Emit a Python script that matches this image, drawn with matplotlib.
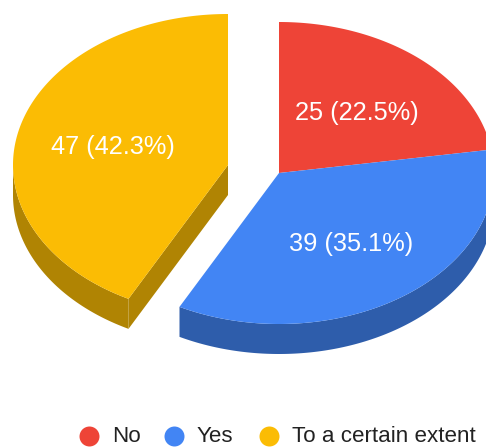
import matplotlib
matplotlib.use("Agg")
import matplotlib.pyplot as plt
import numpy as np

categories = ["No", "Yes", "To a certain extent"]
counts = [25, 39, 47]
percents = ["22.5%", "35.1%", "42.3%"]
colors = ["#EE4437", "#4285F4", "#FBBC04"]
side_colors = ["#A62F26", "#2E5DAB", "#B08403"]

# wedge apex in pixel coordinates
centers = [(279, 173), (279, 173), (228, 165)]
label_pos = [(357, 113), (351, 244), (112.5, 147)]
legend_dots = [89, 173.5, 269]
rx, ry, depth = 215, 151, 30

plt.rcParams["font.family"] = ["Liberation Sans", "DejaVu Sans"]


def rim(cx, cy, a0, a1, dy=0):
    # points on the ellipse, angles clockwise from 12 o'clock
    a = np.radians(np.linspace(a0, a1, 200))
    return cx + rx * np.sin(a), cy - ry * np.cos(a) + dy


fig = plt.figure(figsize=(4.86, 4.47), dpi=100)
ax = fig.add_axes([0, 0, 1, 1])
ax.set_xlim(0, 486)
ax.set_ylim(447, 0)
ax.axis("off")

total = sum(counts)
edges = np.cumsum([0] + counts) / total * 360

for i in range(len(counts)):
    cx, cy = centers[i]
    a0, a1 = edges[i], edges[i + 1]

    # outer side wall, only the front half of the ellipse shows
    s0, s1 = max(a0, 90), min(a1, 270)
    if s0 < s1:
        x, y = rim(cx, cy, s0, s1)
        ax.fill(np.r_[x, x[::-1]], np.r_[y, y[::-1] + depth], color=side_colors[i], lw=0)

    # cut face looking towards the viewer
    if a0 > 180:
        ex, ey = rim(cx, cy, a0, a0)
        ax.fill([cx, ex[0], ex[0], cx], [cy, ey[0], ey[0] + depth, cy + depth],
                color=side_colors[i], lw=0)

    x, y = rim(cx, cy, a0, a1)
    ax.fill(np.r_[cx, x], np.r_[cy, y], color=colors[i], lw=0)

    ax.text(label_pos[i][0], label_pos[i][1], f"{counts[i]} ({percents[i]})",
            color="white", fontsize=18.3, ha="center", va="center")

    # legend
    ax.scatter(legend_dots[i], 436, s=207, color=colors[i], lw=0, clip_on=False)
    ax.text(legend_dots[i] + 23, 437, categories[i], color="#222222", fontsize=16.1,
            ha="left", va="center")

fig.savefig("out.png", dpi=100)
